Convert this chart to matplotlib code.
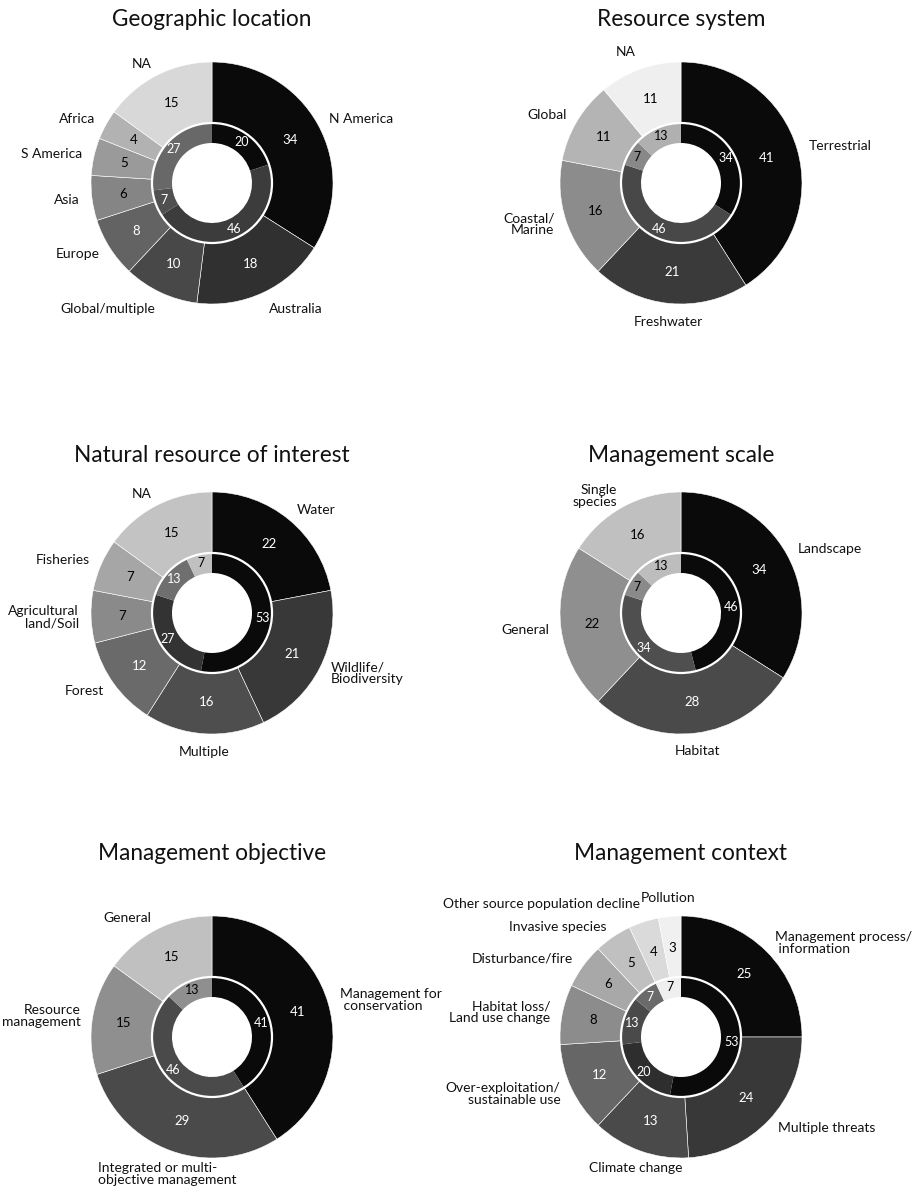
import numpy as np
import matplotlib
matplotlib.use("Agg")
import matplotlib.pyplot as plt
from matplotlib.patches import Circle

plt.rcParams["font.family"] = ["Lato", "DejaVu Sans"]

# ---- data -------------------------------------------------------------
geo_title = "Geographic location"
geo_labels = ["N America", "Australia", "Global/multiple", "Europe", "Asia",
              "S America", "Africa", "NA"]
geo_values = [34, 18, 10, 8, 6, 5, 4, 15]
geo_inner = [20, 46, 7, 27]

res_title = "Resource system"
res_labels = ["Terrestrial", "Freshwater", "Coastal/\nMarine", "Global", "NA"]
res_values = [41, 21, 16, 11, 11]
res_inner = [34, 46, 7, 13]

nat_title = "Natural resource of interest"
nat_labels = ["Water", "Wildlife/\nBiodiversity", "Multiple", "Forest",
              "Agricultural\nland/Soil", "Fisheries", "NA"]
nat_values = [22, 21, 16, 12, 7, 7, 15]
nat_inner = [53, 27, 13, 7]

scale_title = "Management scale"
scale_labels = ["Landscape", "Habitat", "General", "Single\nspecies"]
scale_values = [34, 28, 22, 16]
scale_inner = [46, 34, 7, 13]

obj_title = "Management objective"
obj_labels = ["Management for\n conservation",
              "Integrated or multi-\nobjective management",
              "Resource\nmanagement", "General"]
obj_values = [41, 29, 15, 15]
obj_inner = [41, 46, 13]

ctx_title = "Management context"
ctx_labels = ["Management process/\n information", "Multiple threats",
              "Climate change", "Over-exploitation/\nsustainable use",
              "Habitat loss/\nLand use change", "Disturbance/fire",
              "Invasive species", "Other source population decline",
              "Pollution"]
ctx_values = [25, 24, 13, 12, 8, 6, 5, 4, 3]
ctx_inner = [53, 20, 13, 7, 7]

# ---- styles -----------------------------------------------------------
geo_colors = ["#0a0a0a", "#303030", "#484848", "#636363", "#858585",
              "#9a9a9a", "#b2b2b2", "#d8d8d8"]
geo_inner_colors = ["#0a0a0a", "#3c3c3c", "#505050", "#686868"]
res_colors = ["#0a0a0a", "#3a3a3a", "#8c8c8c", "#b4b4b4", "#efefef"]
res_inner_colors = ["#0a0a0a", "#484848", "#888888", "#b0b0b0"]
nat_colors = ["#0a0a0a", "#383838", "#4e4e4e", "#6a6a6a", "#8a8a8a",
              "#a6a6a6", "#c3c3c3"]
nat_inner_colors = ["#0a0a0a", "#333333", "#6f6f6f", "#c0c0c0"]
scale_colors = ["#0a0a0a", "#4a4a4a", "#8f8f8f", "#c0c0c0"]
scale_inner_colors = ["#0a0a0a", "#4f4f4f", "#8a8a8a", "#bdbdbd"]
obj_colors = ["#0a0a0a", "#4a4a4a", "#8f8f8f", "#c0c0c0"]
obj_inner_colors = ["#0a0a0a", "#4a4a4a", "#8f8f8f"]
ctx_colors = ["#0a0a0a", "#383838", "#4a4a4a", "#666666", "#8c8c8c",
              "#a8a8a8", "#c0c0c0", "#dadada", "#f0f0f0"]
ctx_inner_colors = ["#0a0a0a", "#2e2e2e", "#4a4a4a", "#6a6a6a", "#efefef"]

W, H = 917, 1194
R_OUT, R_RING, R_HOLE = 121, 60, 40


def text_color(c):
    return "white" if int(c[1:3], 16) < 120 else "black"


def mid_angles(values):
    v = np.asarray(values, dtype=float)
    cum = np.cumsum(v) - v / 2
    return np.deg2rad(360 * cum / v.sum())  # clockwise from top


def donut(ax, cx, cy_px, title, title_y, labels, values, colors,
          inner, inner_colors):
    cy = H - cy_px
    ax.pie(values, radius=R_OUT, center=(cx, cy), startangle=90,
           counterclock=False, colors=colors,
           wedgeprops=dict(width=R_OUT - R_RING, edgecolor="white",
                           linewidth=0.4))
    ax.pie(inner, radius=R_RING, center=(cx, cy), startangle=90,
           counterclock=False, colors=inner_colors,
           wedgeprops=dict(width=R_RING - R_HOLE, linewidth=0))
    ax.add_patch(Circle((cx, cy), R_RING, fill=False, edgecolor="white",
                        linewidth=1.6, zorder=5))

    # numbers on outer ring
    for a, v, c in zip(mid_angles(values), values, colors):
        r = 0.74 * R_OUT
        ax.text(cx + r * np.sin(a), cy + r * np.cos(a), str(v),
                ha="center", va="center", fontsize=9.5, color=text_color(c),
                zorder=6)
    # numbers on inner ring
    for a, v, c in zip(mid_angles(inner), inner, inner_colors):
        r = (R_RING + R_HOLE) / 2 + 1
        ax.text(cx + r * np.sin(a), cy + r * np.cos(a), str(v),
                ha="center", va="center", fontsize=9, color=text_color(c),
                zorder=6)
    # category labels
    for a, lab in zip(mid_angles(values), labels):
        r = 1.1 * R_OUT
        s, co = np.sin(a), np.cos(a)
        lim = 0.25 if co > 0.5 else 0.4
        if s > lim:
            ha = "left"
        elif s < -lim:
            ha = "right"
        else:
            ha = "center"
        if co > 0.9:
            va = "bottom"
        elif co < -0.9:
            va = "top"
        else:
            va = "center"
        ax.text(cx + r * s, cy + r * co, lab, ha=ha, va=va,
                multialignment=ha if ha != "center" else "left",
                fontsize=10, color="#111111", linespacing=1.0)
    ax.text(cx, H - title_y, title, ha="center", va="center", fontsize=16.3,
            color="#111111")


fig = plt.figure(figsize=(W / 100, H / 100), dpi=100)
ax = fig.add_axes([0, 0, 1, 1])

donut(ax, 212, 183, geo_title, 20, geo_labels, geo_values, geo_colors,
      geo_inner, geo_inner_colors)
donut(ax, 681, 183, res_title, 20, res_labels, res_values, res_colors,
      res_inner, res_inner_colors)
donut(ax, 212, 613, nat_title, 456, nat_labels, nat_values, nat_colors,
      nat_inner, nat_inner_colors)
donut(ax, 681, 613, scale_title, 456, scale_labels, scale_values,
      scale_colors, scale_inner, scale_inner_colors)
donut(ax, 212, 1037, obj_title, 853, obj_labels, obj_values, obj_colors,
      obj_inner, obj_inner_colors)
donut(ax, 681, 1037, ctx_title, 853, ctx_labels, ctx_values, ctx_colors,
      ctx_inner, ctx_inner_colors)

ax.set_xlim(0, W)
ax.set_ylim(0, H)
ax.set_aspect("equal")
ax.axis("off")

fig.savefig("out.png", dpi=100, facecolor="white")
